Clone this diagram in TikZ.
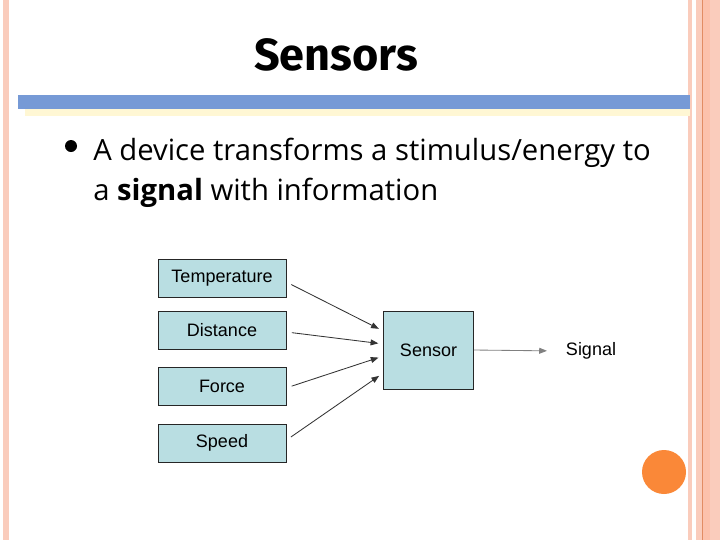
\documentclass[tikz,border=0pt]{standalone}
\usepackage{fontspec}
\usepackage{tikz}
\usetikzlibrary{arrows.meta}
\setmainfont{Liberation Sans}
\newfontfamily\bodyfont{Open Sans}
\newfontfamily\titlefont{Fira Sans}
\definecolor{boxblue}{RGB}{185,222,226}
\definecolor{barblue}{RGB}{118,154,214}
\definecolor{barshade}{RGB}{255,247,212}
\definecolor{edgepink}{RGB}{250,204,188}
\definecolor{edgesalmon}{RGB}{252,193,172}
\definecolor{edgeline}{RGB}{226,140,100}
\definecolor{dotorange}{RGB}{250,136,56}

\begin{document}
\begin{tikzpicture}[x=0.025cm,y=-0.025cm,
	inbox/.style={draw=black!85,fill=boxblue,minimum width=3.2cm,minimum height=0.95cm,font=\fontsize{12.8}{14}\selectfont},
	feed/.style={draw=black!80,line width=0.6pt,-{Triangle[length=5.5pt,width=4.2pt]},shorten <=4pt,shorten >=3.5pt}]
	\useasboundingbox (0,0) rectangle (720,540);
	\fill[white] (0,0) rectangle (720,540);
\fill[edgepink] (3,0) rectangle (9,540);
\fill[edgepink] (688,0) rectangle (692,540);
\fill[edgepink] (696,0) rectangle (702,540);
\fill[edgesalmon] (703,0) rectangle (710,540);
\fill[edgepink] (710,0) rectangle (720,540);
\draw[edgeline,line width=0.7pt] (702.5,0) -- (702.5,540);
\fill[barshade] (25,109) rectangle (690,116);
\fill[barblue] (18,95) rectangle (690,109);
\fill[dotorange] (664,472) circle (22);

\node (title) at (336,55) {\titlefont\bfseries\fontsize{32}{36}\selectfont Sensors};
\fill (71,146) circle (6);
\node[anchor=base west,inner sep=0pt] (line1) at (93,160) {\bodyfont\fontsize{20.8}{24}\selectfont A device transforms a stimulus/energy to};
\node[anchor=base west,inner sep=0pt] (line2) at (93,200) {\bodyfont\fontsize{20.8}{24}\selectfont a \textbf{signal} with information};

\node[inbox] (temp) at (222,278.5) {Temperature};
\node[inbox] (dist) at (222,330) {Distance};
\node[inbox] (force) at (222,386.5) {Force};
\node[inbox] (speed) at (222,443) {Speed};
\node[inbox,minimum width=2.25cm,minimum height=1.95cm] (sensor) at (428.5,350) {Sensor};
\node[font=\fontsize{12.8}{14}\selectfont] (signal) at (591,351) {Signal};

\draw[feed] ([yshift=-2.5pt]temp.east) -- ([yshift=13.5pt]sensor.west);
\draw[feed] ([yshift=-1.4pt]dist.east) -- ([yshift=4.3pt]sensor.west);
\draw[feed] ([yshift=-1pt]force.east) -- ([yshift=-4.3pt]sensor.west);
\draw[feed] ([yshift=2pt]speed.east) -- ([yshift=-16.4pt]sensor.west);
\draw[feed,draw=black!50,shorten <=0pt,shorten >=10pt] (sensor.east) -- (signal.west);

\end{tikzpicture}
\end{document}
